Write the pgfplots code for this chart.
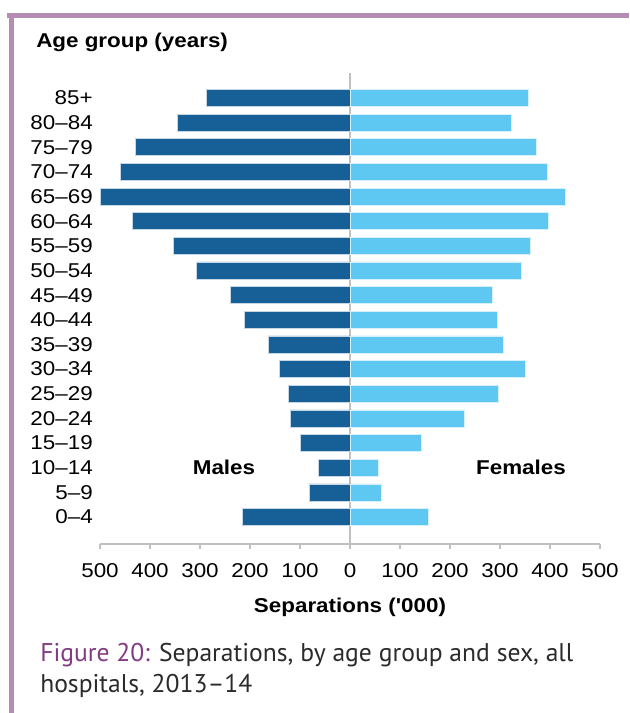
\documentclass[border=0pt]{standalone}
\usepackage{fontspec}
\newfontfamily\chartfont{Liberation Sans}[FakeStretch=1.12]
\newfontfamily\capfont{PT Sans}
\usepackage{pgfplots}
\pgfplotsset{compat=1.18}
\definecolor{male}{HTML}{176097}
\definecolor{female}{HTML}{5EC8F2}
\definecolor{framec}{HTML}{B48CB4}
\definecolor{figpurple}{HTML}{833C83}
\definecolor{captext}{HTML}{2B2B2B}
\definecolor{axisgray}{HTML}{C0C0C0}
\begin{document}
\chartfont\fontsize{15}{18}\selectfont
\begin{tikzpicture}
\path[use as bounding box, fill=white] (0,0) rectangle (471.75pt,534.75pt);
\fill[framec] (5.25pt,521.25pt) rectangle (471.75pt,525pt);
\fill[framec] (6.375pt,0pt) rectangle (10.125pt,525pt);
\begin{axis}[
  at={(75pt,126.75pt)}, anchor=south west,
  scale only axis, width=375pt, height=353.25pt,
  xmin=-500, xmax=500, ymin=-1.095, ymax=18.01,
  axis x line*=bottom, axis y line*=left,
  y axis line style={draw=none},
  x axis line style={axisgray, line width=1.1pt},
  tick align=outside,
  major tick length=3.75pt,
  xtick={-500,-400,-300,-200,-100,0,100,200,300,400,500},
  xticklabels={500,400,300,200,100,0,100,200,300,400,500},
  xtick style={axisgray, line width=1pt},
  ytick={0,...,17},
  yticklabels={0–4,5–9,10–14,15–19,20–24,25–29,30–34,35–39,40–44,45–49,50–54,55–59,60–64,65–69,70–74,75–79,80–84,85+},
  ytick style={draw=none},
  xticklabel style={anchor=base, inner sep=0pt, yshift=-21.75pt},
  yticklabel style={anchor=east, inner sep=0pt, xshift=-1.5pt},
  xlabel={Separations ('000)},
  xlabel style={font=\bfseries, at={(axis description cs:0.5,0)}, anchor=base, inner sep=0pt, yshift=-51.5pt},
]
\addplot[axisgray, line width=1.1pt] coordinates {(0,-1.095) (0,18.01)};
\addplot[xbar, bar shift=0pt, bar width=12.75pt, fill=male, draw=white!75!male, line width=0.4pt] coordinates {
(-216,0) (-82,1) (-64,2) (-99,3) (-120,4) (-124,5) (-142,6) (-164,7) (-212,8) (-240,9)
(-307,10) (-353,11) (-435,12) (-499,13) (-459,14) (-429,15) (-345,16) (-287,17)};
\addplot[xbar, bar shift=0pt, bar width=12.75pt, fill=female, draw=white!75!female, line width=0.4pt] coordinates {
(157,0) (63,1) (56,2) (142,3) (229,4) (296,5) (350,6) (306,7) (294,8) (285,9)
(342,10) (360,11) (396,12) (430,13) (395,14) (372,15) (322,16) (356,17)};
\node[font=\bfseries] at (axis cs:-252,2) {Males};
\node[font=\bfseries] at (axis cs:342,2) {Females};
\end{axis}
\node[anchor=base west, inner sep=0pt, font=\bfseries] at (27pt,498.75pt) {Age group (years)};
\begin{scope}[font=\capfont\fontsize{19.2}{22}\selectfont]
\node[anchor=base west, inner sep=0pt, text=captext] at (30pt,38.25pt) {{\color{figpurple}Figure 20:} Separations, by age group and sex, all};
\node[anchor=base west, inner sep=0pt, text=captext] at (30pt,15.75pt) {hospitals, 2013–14};
\end{scope}
\end{tikzpicture}
\end{document}
